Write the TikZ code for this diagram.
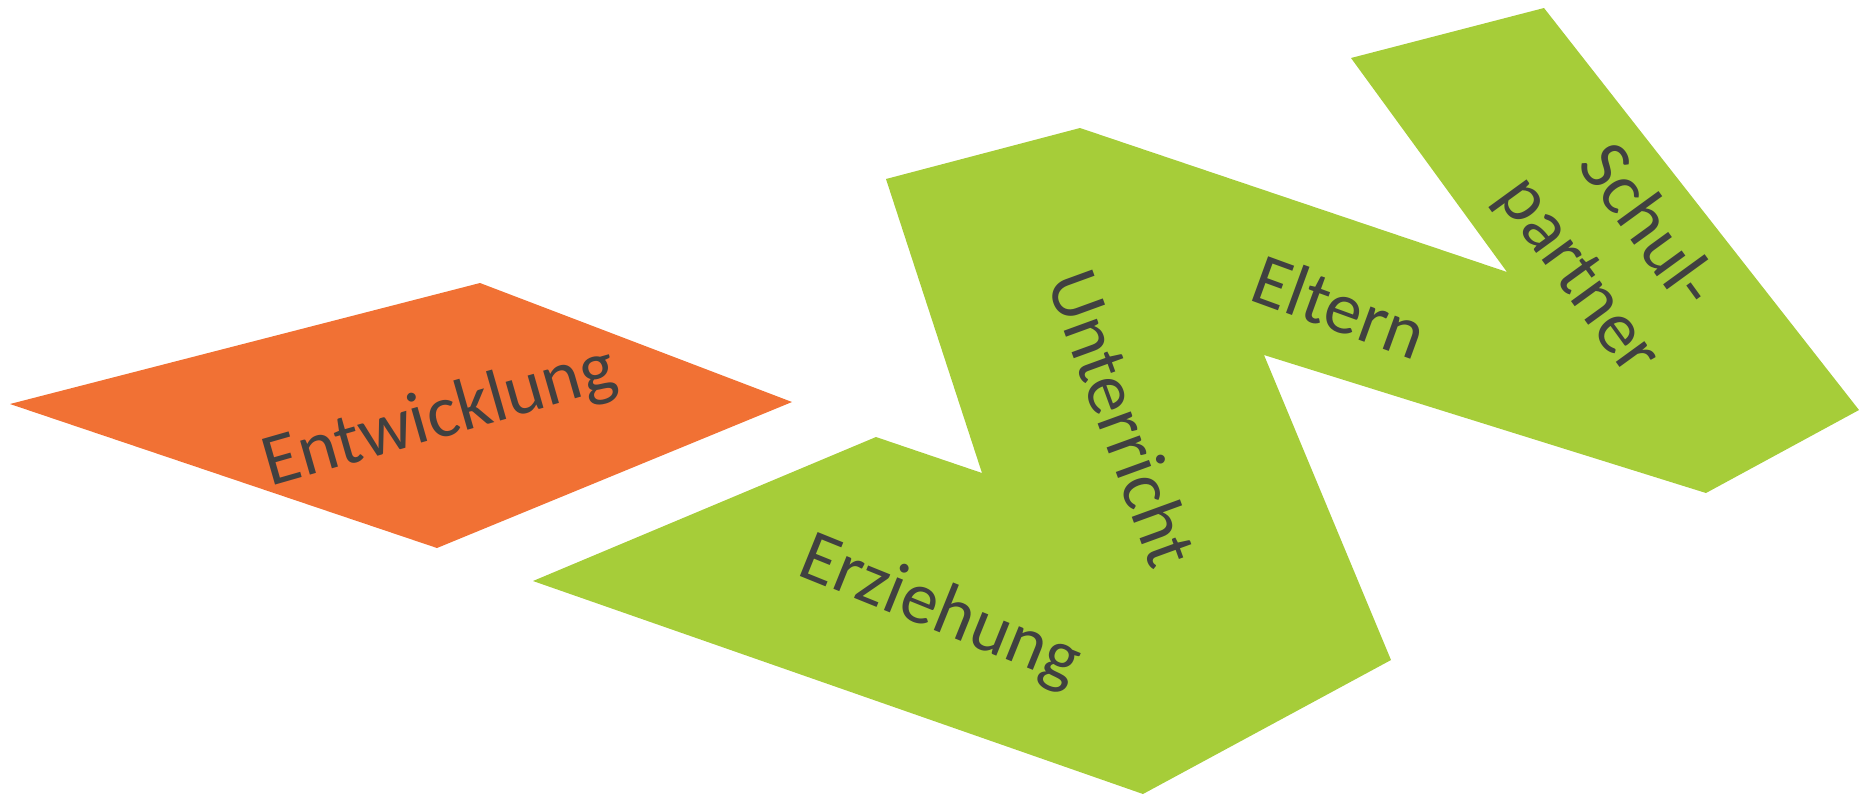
\documentclass[tikz,border=0pt]{standalone}
\usepackage{fontspec}
\setmainfont{Carlito}
\definecolor{orangefill}{RGB}{241,113,52}
\definecolor{greenfill}{RGB}{166,205,57}
\definecolor{darktext}{RGB}{64,64,64}
\tikzset{
    wordtext/.style={text=darktext, inner sep=0pt, font=\fontsize{21pt}{24pt}\selectfont}
}
\begin{document}
\begin{tikzpicture}[x=0.01cm, y=-0.01cm]
    \useasboundingbox (0,0) rectangle (1868,796);

    % Orange parallelogram coordinates
    \coordinate (O1) at (10,404);
    \coordinate (O2) at (480,283);
    \coordinate (O3) at (792,402);
    \coordinate (O4) at (437,548);

    % Green shape coordinates
    \coordinate (G1) at (533,581);
    \coordinate (G2) at (876,437);
    \coordinate (G3) at (982,473);
    \coordinate (G4) at (886,179);
    \coordinate (G5) at (1080,128);
    \coordinate (G6) at (1507,272);
    \coordinate (G7) at (1351,58);
    \coordinate (G8) at (1544,8);
    \coordinate (G9) at (1859,410);
    \coordinate (G10) at (1706,493);
    \coordinate (G11) at (1264,355);
    \coordinate (G12) at (1391,660);
    \coordinate (G13) at (1143,794);

    % Fill shapes
    \fill[orangefill] (O1) -- (O2) -- (O3) -- (O4) -- cycle;
    \fill[greenfill] (G1) -- (G2) -- (G3) -- (G4) -- (G5) -- (G6) -- (G7) -- (G8)
        -- (G9) -- (G10) -- (G11) -- (G12) -- (G13) -- cycle;

    % Labels
    \node[wordtext, rotate=16] (entw) at (440,418) {Entwicklung};
    \node[wordtext, rotate=-22] (erz) at (940,612) {Erziehung};
    \node[wordtext, rotate=-70] (unt) at (1123,418) {Unterricht};
    \node[wordtext, rotate=-20] (elt) at (1340,306) {Eltern};
    \node[wordtext, rotate=-54, align=center] (schul) at (1612,252) {Schul-\\partner};

\end{tikzpicture}
\end{document}
